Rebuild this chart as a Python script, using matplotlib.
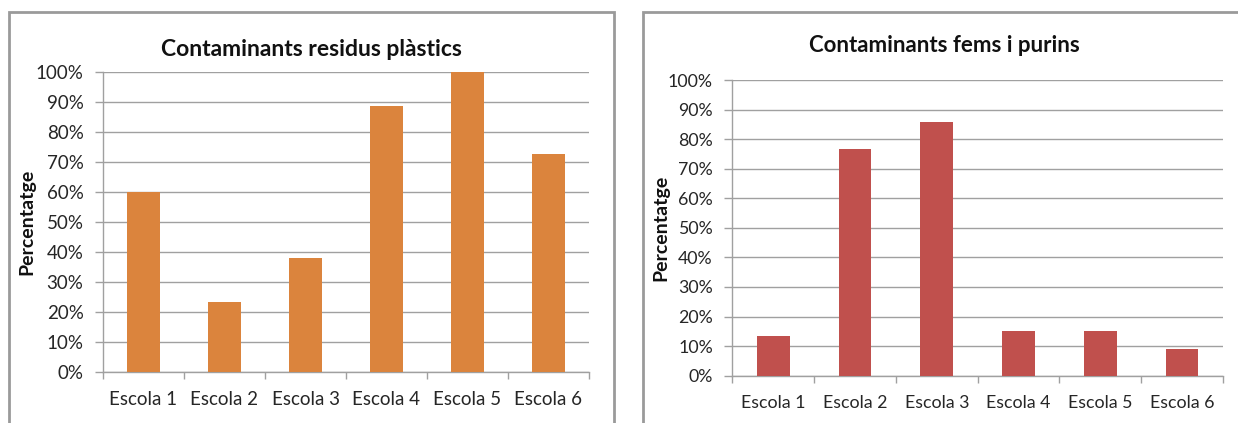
import matplotlib
matplotlib.use("Agg")
import matplotlib.pyplot as plt
from matplotlib.patches import Rectangle
from matplotlib.ticker import PercentFormatter

plt.rcParams['font.family'] = ['Lato', 'DejaVu Sans']

categories = ["Escola 1", "Escola 2", "Escola 3", "Escola 4", "Escola 5", "Escola 6"]
plastics = [60.0, 23.3, 37.9, 88.9, 100.0, 72.7]
manure = [13.3, 76.7, 85.7, 15.0, 15.0, 9.1]
yticks = list(range(0, 101, 10))

W, H = 1238, 423
fig = plt.figure(figsize=(W / 100, H / 100), dpi=100)

GRID = "#a0a0a0"
FRAME = "#9a9a9a"
TEXT = "#262626"


def fx(px):
    return px / W


def fy(py):
    return 1 - py / H


# chart frames
for x0, x1 in [(9, 614), (643, 1245)]:
    fig.patches.append(Rectangle((fx(x0), fy(440)), fx(x1 - x0), (440 - 12) / H,
                                 transform=fig.transFigure, fill=False,
                                 edgecolor=FRAME, linewidth=2))


def draw(ax, values, color, title, fs_title, fs_tick, title_x, title_y, ylab_x):
    n = len(categories)
    ax.bar(range(n), values, width=0.4, color=color, zorder=3)
    ax.set_xlim(-0.5, n - 0.5)
    ax.set_ylim(0, 100)
    ax.set_yticks(yticks)
    ax.yaxis.set_major_formatter(PercentFormatter(decimals=0))
    ax.set_xticks(range(n))
    ax.set_xticklabels(categories, fontsize=fs_tick, color=TEXT)
    ax.set_xticks([i - 0.5 for i in range(n + 1)], minor=True)
    ax.tick_params(axis='x', which='major', length=0, pad=14)
    ax.tick_params(axis='x', which='minor', length=5, color=GRID, width=1)
    ax.tick_params(axis='y', length=6, color=GRID, width=1, labelsize=fs_tick,
                   labelcolor=TEXT, pad=8)
    ax.grid(axis='y', color=GRID, linewidth=1, zorder=0)
    for s in ['top', 'right']:
        ax.spines[s].set_visible(False)
    for s in ['left', 'bottom']:
        ax.spines[s].set_color(GRID)
        ax.spines[s].set_linewidth(1)
    ax.set_ylabel("Percentatge", fontsize=14, fontweight='bold', color="#111111")
    ax.yaxis.label.set_va('center')
    ax.yaxis.set_label_coords(ylab_x, 0.5)
    fig.text(fx(title_x), fy(title_y), title, ha='center', va='center',
             fontsize=fs_title, fontweight='bold', color="#111111")


ax1 = fig.add_axes([fx(103), fy(371.7), fx(589 - 103), (371.7 - 72.3) / H])
draw(ax1, plastics, "#db843d", "Contaminants residus plàstics", 16.5, 13.5,
     311, 50, -0.156)

ax2 = fig.add_axes([fx(732.3), fy(375.7), fx(1223 - 732.3), (375.7 - 80) / H])
draw(ax2, manure, "#c0504d", "Contaminants fems i purins", 16, 12.8,
     944, 46, -0.145)

fig.savefig("out.png", dpi=100)
